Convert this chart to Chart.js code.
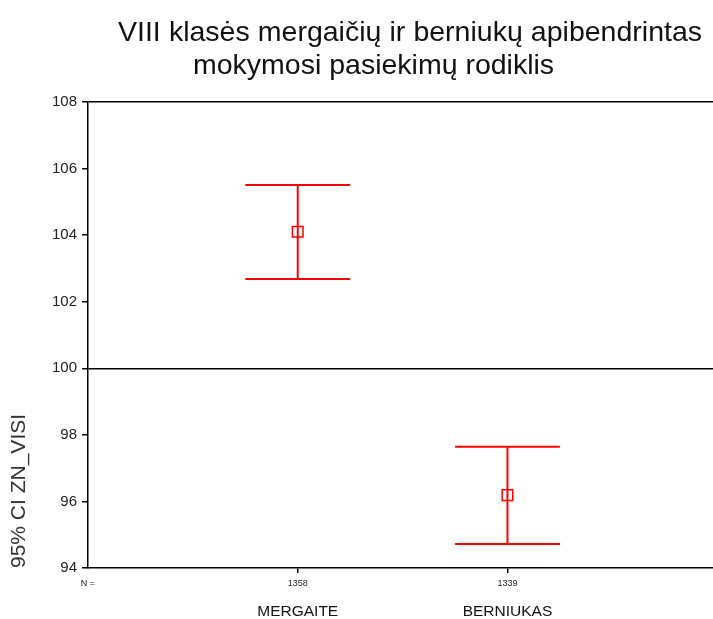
<!DOCTYPE html>
<html>
<head>
<meta charset="utf-8">
<script src="https://cdn.jsdelivr.net/npm/chart.js@4.4.1/dist/chart.umd.min.js"></script>
<style>
  html, body { margin: 0; padding: 0; background: #fff; }
  #wrap { width: 713px; height: 619px; }
</style>
</head>
<body>
<div id="wrap"><canvas id="c" width="713" height="619"></canvas></div>
<script>
// ---- data ----
const titleLines = ['VIII klasės mergaičių ir berniukų apibendrintas', 'mokymosi pasiekimų rodiklis'];
const yAxisTitle = '95% CI ZN_VISI';
const categories = ['MERGAITE', 'BERNIUKAS'];
const nValues = [1358, 1339];
const nLabel = 'N =';
const means = [104.1, 96.19];
const lowerCI = [102.68, 94.72];
const upperCI = [105.51, 97.64];
const yTicks = [94, 96, 98, 100, 102, 104, 106, 108];
const referenceLines = [100, 108];

// ---- style ----
const RED = '#ff0000';
const FONT = "'Liberation Sans', Arial, sans-serif";
const capHalf = 0.25;
const xMax = 2.98;

const datasets = [];
categories.forEach((cat, i) => {
  const xPos = i + 1;
  const lineStyle = { showLine: true, borderColor: RED, borderWidth: 2, pointRadius: 0, fill: false };
  datasets.push(Object.assign({ label: cat + ' ci', data: [{ x: xPos, y: lowerCI[i] }, { x: xPos, y: upperCI[i] }] }, lineStyle));
  datasets.push(Object.assign({ label: cat + ' hi', data: [{ x: xPos - capHalf, y: upperCI[i] }, { x: xPos + capHalf, y: upperCI[i] }] }, lineStyle));
  datasets.push(Object.assign({ label: cat + ' lo', data: [{ x: xPos - capHalf, y: lowerCI[i] }, { x: xPos + capHalf, y: lowerCI[i] }] }, lineStyle));
  datasets.push({
    label: cat + ' mean', data: [{ x: xPos, y: means[i] }], showLine: false,
    pointStyle: 'rect', pointRadius: 7.5, borderColor: RED, borderWidth: 1.5,
    backgroundColor: 'rgba(0,0,0,0)'
  });
});

const bgPlugin = {
  id: 'bg',
  beforeDraw(chart) {
    const ctx = chart.ctx;
    ctx.save(); ctx.fillStyle = '#fff'; ctx.fillRect(0, 0, chart.width, chart.height); ctx.restore();
  }
};

const titlePlugin = {
  id: 'justTitle',
  afterDraw(chart) {
    const ctx = chart.ctx;
    ctx.save();
    ctx.fillStyle = '#111';
    ctx.font = '28.5px ' + FONT;
    ctx.textBaseline = 'alphabetic';
    // line 1: justified between 118 and 702
    const words = titleLines[0].split(' ');
    const left = 118, right = 702;
    const wordsW = words.reduce((s, w) => s + ctx.measureText(w).width, 0);
    const gap = (right - left - wordsW) / (words.length - 1);
    let x = left;
    words.forEach(w => { ctx.fillText(w, x, 41); x += ctx.measureText(w).width + gap; });
    // line 2
    ctx.fillText(titleLines[1], 193, 74);
    ctx.restore();
  }
};

const noSidePad = s => { s.paddingLeft = 0; s.paddingRight = 0; };

new Chart(document.getElementById('c'), {
  type: 'scatter',
  data: { datasets },
  plugins: [bgPlugin, titlePlugin],
  options: {
    responsive: false,
    animation: false,
    devicePixelRatio: 1,
    clip: false,
    layout: { autoPadding: false, padding: { top: 102, left: 0, right: 0, bottom: 0 } },
    plugins: { legend: { display: false }, tooltip: { enabled: false }, title: { display: false } },
    scales: {
      x: {
        type: 'linear', min: 0, max: xMax, weight: 0,
        afterBuildTicks: s => { s.ticks = [0, 1, 2].map(v => ({ value: v })); },
        afterFit: s => { s.height = 24; noSidePad(s); },
        ticks: {
          callback: v => (v === 0 ? nLabel : String(nValues[v - 1])),
          font: { family: FONT, size: 9 }, color: '#222', padding: 5.5, maxRotation: 0, autoSkip: false
        },
        grid: {
          drawOnChartArea: false, tickLength: 5,
          tickColor: c => (c.tick && c.tick.value === 0 ? 'rgba(0,0,0,0)' : '#000'),
          color: '#000', lineWidth: 1.5
        },
        border: { display: true, color: '#000', width: 1.5 }
      },
      x2: {
        type: 'linear', axis: 'x', position: 'bottom', min: 0, max: xMax, weight: 1,
        afterBuildTicks: s => { s.ticks = categories.map((c, i) => ({ value: i + 1 })); },
        afterFit: s => { s.height = 27; noSidePad(s); },
        ticks: {
          callback: v => categories[v - 1],
          font: { family: FONT, size: 15.5 }, color: '#111', padding: 10, maxRotation: 0, autoSkip: false
        },
        grid: { display: false, drawTicks: false },
        border: { display: false }
      },
      y: {
        type: 'linear', min: 94, max: 108,
        afterBuildTicks: s => { s.ticks = yTicks.map(v => ({ value: v })); },
        afterFit: s => { s.width = 88; },
        ticks: { font: { family: FONT, size: 15 }, color: '#222', padding: 5 },
        grid: {
          tickLength: 6, tickColor: '#000', lineWidth: 1.5,
          color: c => (c.tick && referenceLines.includes(c.tick.value) ? '#000' : 'rgba(0,0,0,0)')
        },
        border: { display: true, color: '#000', width: 1.5 },
        title: {
          display: true, text: yAxisTitle, align: 'start', color: '#333',
          font: { family: FONT, size: 21 }, padding: { top: 7, bottom: 0 }
        }
      }
    }
  }
});
</script>
</body>
</html>
